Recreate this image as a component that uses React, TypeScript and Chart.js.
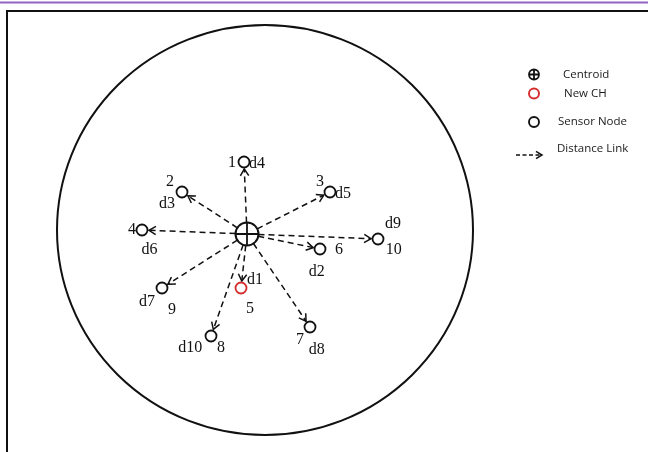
import React, { useEffect, useRef } from 'react';
import { Chart, registerables } from 'chart.js';

Chart.register(...registerables);

// ---- data (field coordinates, centroid at origin, y upward) ----
const nodeIds = [1, 2, 3, 4, 5, 6, 7, 8, 9, 10];
const nodeX = [-3, -65, 83, -105, -6, 73, 63, -36, -85, 131];
const nodeY = [72, 42, 42, 4, -54, -15, -93, -102, -54, -5];
const distanceLabels = ['d4', 'd3', 'd5', 'd6', 'd1', 'd2', 'd8', 'd10', 'd7', 'd9'];
const newCHId = 5;
const centroidXY = [0, 0];
const fieldCenter = [18, 4];
const fieldRadius = [208, 205];
const xRange = [-247, 401];
const yRange = [-218, 234];
const legendLabels = ['Centroid', 'New CH', 'Sensor Node', 'Distance Link'];

// ---- styling / label placement (pixel offsets from each node) ----
const idOffsets = [[-12, 1], [-12, -10], [-10, -10], [-10, 0], [9, 21], [19, 1], [-10, 12.5], [10, 11.5], [10, 21.7], [15.7, 11]];
const dOffsets = [[13, 2], [-15, 12], [13, 1.6], [7.5, 20], [14, -8], [-3.3, 22.4], [6.7, 22.5], [-20.7, 11.5], [-15, 13.4], [15, -15.7]];
const INK = '#111111';
const RED = '#d42b2b';
const PURPLE = '#9165c3';
const NODE_R = 5.5;
const CENTROID_R = 11.5;

function drawArrow(ctx: CanvasRenderingContext2D, x0: number, y0: number, x1: number, y1: number,
  startTrim: number, endTrim: number, dash: number[], head: number, lw: number) {
  const dx = x1 - x0, dy = y1 - y0;
  const L = Math.hypot(dx, dy);
  const ux = dx / L, uy = dy / L;
  const sx = x0 + ux * startTrim, sy = y0 + uy * startTrim;
  const ex = x1 - ux * endTrim, ey = y1 - uy * endTrim;
  ctx.save();
  ctx.strokeStyle = INK;
  ctx.lineWidth = lw;
  ctx.setLineDash(dash);
  ctx.beginPath();
  ctx.moveTo(sx, sy);
  ctx.lineTo(ex, ey);
  ctx.stroke();
  ctx.setLineDash([]);
  const ang = Math.atan2(uy, ux);
  const a = 0.55;
  ctx.beginPath();
  ctx.moveTo(ex - head * Math.cos(ang - a), ey - head * Math.sin(ang - a));
  ctx.lineTo(ex, ey);
  ctx.lineTo(ex - head * Math.cos(ang + a), ey - head * Math.sin(ang + a));
  ctx.stroke();
  ctx.restore();
}

const diagramPlugin = {
  id: 'diagram',
  beforeDraw(chart: any) {
    const ctx: CanvasRenderingContext2D = chart.ctx;
    ctx.save();
    ctx.fillStyle = '#ffffff';
    ctx.fillRect(0, 0, chart.width, chart.height);
    ctx.fillStyle = PURPLE;
    ctx.fillRect(0, 1.5, chart.width, 2);
    ctx.strokeStyle = INK;
    ctx.lineWidth = 2;
    ctx.strokeRect(7, 11, chart.width + 20, chart.height + 20);
    ctx.restore();
  },
  beforeDatasetsDraw(chart: any) {
    const ctx: CanvasRenderingContext2D = chart.ctx;
    const xs = chart.scales.x, ys = chart.scales.y;
    // field boundary
    const cx = xs.getPixelForValue(fieldCenter[0]);
    const cy = ys.getPixelForValue(fieldCenter[1]);
    const rx = xs.getPixelForValue(fieldCenter[0] + fieldRadius[0]) - cx;
    const ry = cy - ys.getPixelForValue(fieldCenter[1] + fieldRadius[1]);
    ctx.save();
    ctx.strokeStyle = INK;
    ctx.lineWidth = 2;
    ctx.beginPath();
    ctx.ellipse(cx, cy, rx, ry, 0, 0, Math.PI * 2);
    ctx.stroke();
    ctx.restore();
    // distance links
    const px = xs.getPixelForValue(centroidXY[0]);
    const py = ys.getPixelForValue(centroidXY[1]);
    nodeIds.forEach((_, i) => {
      const nx = xs.getPixelForValue(nodeX[i]);
      const ny = ys.getPixelForValue(nodeY[i]);
      drawArrow(ctx, px, py, nx, ny, CENTROID_R, NODE_R + 1.5, [6, 4], 8, 1.5);
    });
  },
  afterDatasetsDraw(chart: any) {
    const ctx: CanvasRenderingContext2D = chart.ctx;
    const xs = chart.scales.x, ys = chart.scales.y;
    ctx.save();
    ctx.fillStyle = INK;
    ctx.font = '16px "Liberation Serif", "DejaVu Serif", serif';
    ctx.textAlign = 'center';
    ctx.textBaseline = 'middle';
    nodeIds.forEach((id, i) => {
      const nx = xs.getPixelForValue(nodeX[i]);
      const ny = ys.getPixelForValue(nodeY[i]);
      ctx.fillText(String(id), nx + idOffsets[i][0], ny + idOffsets[i][1]);
      ctx.fillText(distanceLabels[i], nx + dOffsets[i][0], ny + dOffsets[i][1]);
    });
    ctx.restore();
  },
  afterDraw(chart: any) {
    const ctx: CanvasRenderingContext2D = chart.ctx;
    ctx.save();
    const symX = 534;
    const rowY = [74.5, 93.5, 122, 149];
    // centroid symbol
    ctx.strokeStyle = INK;
    ctx.lineWidth = 1.8;
    ctx.beginPath();
    ctx.arc(symX, rowY[0], 5, 0, Math.PI * 2);
    ctx.moveTo(symX - 5, rowY[0]);
    ctx.lineTo(symX + 5, rowY[0]);
    ctx.moveTo(symX, rowY[0] - 5);
    ctx.lineTo(symX, rowY[0] + 5);
    ctx.stroke();
    // new CH
    ctx.strokeStyle = RED;
    ctx.lineWidth = 1.9;
    ctx.beginPath();
    ctx.arc(symX, rowY[1], 5, 0, Math.PI * 2);
    ctx.stroke();
    // sensor node
    ctx.strokeStyle = INK;
    ctx.beginPath();
    ctx.arc(symX, rowY[2], 5, 0, Math.PI * 2);
    ctx.stroke();
    // distance link
    drawArrow(ctx, 516, rowY[3] + 6, 542, rowY[3] + 6, 0, 0, [4, 2.5], 7, 1.5);
    ctx.fillStyle = '#1a1a1a';
    ctx.font = '11.5px "Open Sans", "Noto Sans", sans-serif';
    ctx.textAlign = 'left';
    ctx.textBaseline = 'middle';
    const textX = [563, 564, 558, 557];
    legendLabels.forEach((t, i) => ctx.fillText(t, textX[i], rowY[i]));
    ctx.restore();
  },
};

export default function App() {
  const ref = useRef<HTMLCanvasElement | null>(null);
  useEffect(() => {
    if (!ref.current) return;
    const sensors = nodeIds.map((id, i) => ({ id, x: nodeX[i], y: nodeY[i] })).filter(p => p.id !== newCHId);
    const newCH = nodeIds.map((id, i) => ({ id, x: nodeX[i], y: nodeY[i] })).filter(p => p.id === newCHId);
    const centroid = [{ x: centroidXY[0], y: centroidXY[1] }];
    const chart = new Chart(ref.current, {
      type: 'scatter',
      data: {
        datasets: [
          { label: 'Centroid cross', data: centroid, order: 0, pointStyle: 'cross', pointRadius: CENTROID_R, borderWidth: 1.8, borderColor: INK, backgroundColor: INK },
          { label: 'Centroid', data: centroid, order: 1, pointStyle: 'circle', pointRadius: CENTROID_R, borderWidth: 2, borderColor: INK, backgroundColor: '#ffffff' },
          { label: 'Sensor Node', data: sensors, order: 2, pointStyle: 'circle', pointRadius: NODE_R, borderWidth: 1.8, borderColor: INK, backgroundColor: '#ffffff' },
          { label: 'New CH', data: newCH, order: 3, pointStyle: 'circle', pointRadius: NODE_R, borderWidth: 1.8, borderColor: RED, backgroundColor: '#ffffff' },
        ],
      },
      options: {
        responsive: false,
        animation: false,
        events: [],
        layout: { padding: 0, autoPadding: false },
        scales: {
          x: { type: 'linear', min: xRange[0], max: xRange[1], display: false },
          y: { type: 'linear', min: yRange[0], max: yRange[1], display: false },
        },
        plugins: { legend: { display: false }, tooltip: { enabled: false } },
      },
      plugins: [diagramPlugin],
    });
    return () => chart.destroy();
  }, []);
  return (
    <div style={{ position: 'fixed', left: 0, top: 0, width: 648, height: 452, background: '#fff' }}>
      <canvas ref={ref} width={648} height={452} style={{ display: 'block' }} />
    </div>
  );
}
